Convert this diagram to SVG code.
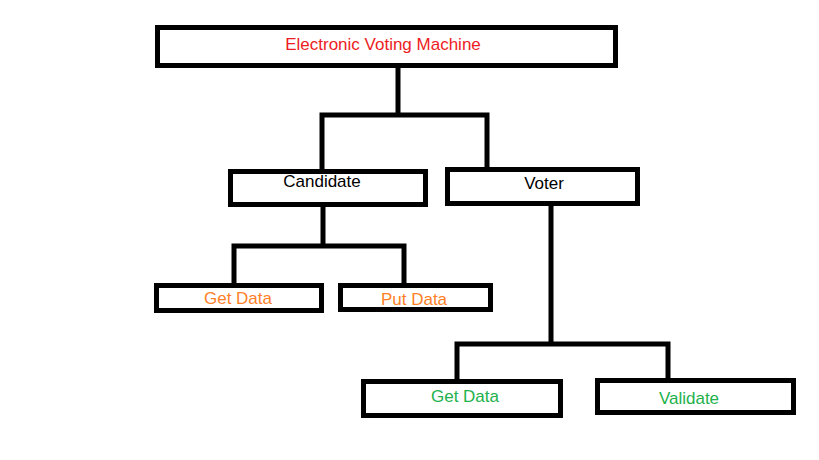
<svg xmlns="http://www.w3.org/2000/svg" width="819" height="460" viewBox="0 0 819 460">
<style>
.box{fill:#fff;stroke:#000;stroke-width:5}
.lbl{font-family:"Liberation Sans",Arial,sans-serif;font-size:17px;text-anchor:middle}
.con{fill:none;stroke:#000;stroke-width:5;stroke-linejoin:miter}
</style>
<rect width="819" height="460" fill="#fff"/>
<g id="connectors">
<path class="con" d="M398 68 V115"/>
<path class="con" d="M322 171 V115 H487 V169"/>
<path class="con" d="M323 206 V246"/>
<path class="con" d="M234 285 V246 H404 V285"/>
<path class="con" d="M551 205 V344"/>
<path class="con" d="M457 381 V344 H668 V380"/>
</g>
<g id="evm"><rect class="box" x="157.5" y="27.5" width="458" height="38"/><text class="lbl" x="383" y="50" fill="#ed1c24">Electronic Voting Machine</text></g>
<g id="candidate"><rect class="box" x="230.5" y="171.5" width="195" height="33"/><text class="lbl" x="322" y="187" fill="#000">Candidate</text></g>
<g id="voter"><rect class="box" x="447.5" y="169.5" width="190" height="34"/><text class="lbl" x="544" y="189" fill="#000">Voter</text></g>
<g id="cand-get"><rect class="box" x="156.5" y="285.5" width="165" height="25"/><text class="lbl" x="238" y="304" fill="#ff7f27">Get Data</text></g>
<g id="cand-put"><rect class="box" x="340.5" y="285.5" width="150" height="24"/><text class="lbl" x="414" y="305" fill="#ff7f27">Put Data</text></g>
<g id="voter-get"><rect class="box" x="363.5" y="381.5" width="197" height="34"/><text class="lbl" x="465" y="402" fill="#22b14c">Get Data</text></g>
<g id="validate"><rect class="box" x="597.5" y="380.5" width="196" height="32"/><text class="lbl" x="689" y="404" fill="#22b14c">Validate</text></g>
</svg>
